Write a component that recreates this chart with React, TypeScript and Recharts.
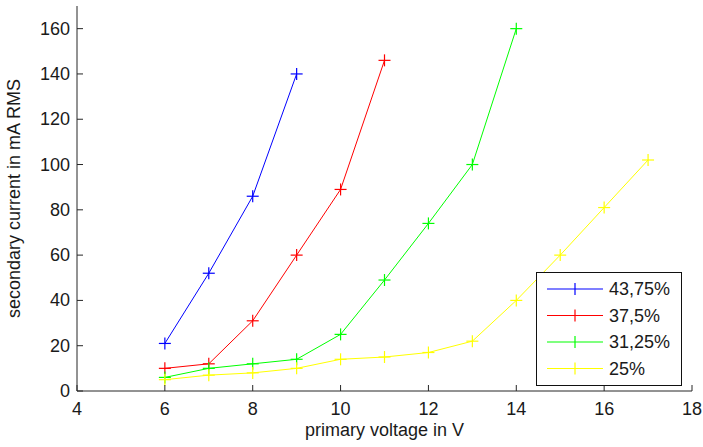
import { LineChart, Line, XAxis, YAxis, Legend } from 'recharts';

const voltages = [6, 7, 8, 9, 10, 11, 12, 13, 14, 15, 16, 17];
const current4375 = [21, 52, 86, 140];
const current375 = [10, 12, 31, 60, 89, 146];
const current3125 = [6, 10, 12, 14, 25, 49, 74, 100, 160];
const current25 = [5, 7, 8, 10, 14, 15, 17, 22, 40, 60, 81, 102];
const xTicks = [4, 6, 8, 10, 12, 14, 16, 18];
const yTicks = [0, 20, 40, 60, 80, 100, 120, 140, 160];

const toPoints = (vals: number[]) => vals.map((y, i) => ({ x: voltages[i], y }));

const series = [
    { name: '43,75%', color: '#0000ff', data: toPoints(current4375) },
    { name: '37,5%', color: '#ff0000', data: toPoints(current375) },
    { name: '31,25%', color: '#00ff00', data: toPoints(current3125) },
    { name: '25%', color: '#ffff00', data: toPoints(current25) },
];

const FONT = "'Liberation Sans', Arial, sans-serif";
const AXIS = '#262626';

// MATLAB style '+' marker
const PlusDot = (props: any) => {
    const { cx, cy, stroke } = props;
    if (cx == null || cy == null) return null;
    return (
        <g>
            <line x1={cx - 6} y1={cy} x2={cx + 6} y2={cy} stroke={stroke} strokeWidth={1.2} />
            <line x1={cx} y1={cy - 6} x2={cx} y2={cy + 6} stroke={stroke} strokeWidth={1.2} />
        </g>
    );
};

const BottomTick = (props: any) => {
    const { x, y, payload } = props;
    return (
        <g>
            <line x1={x} y1={y} x2={x} y2={y - 6} stroke={AXIS} />
            <text x={x} y={y + 24} textAnchor="middle" fill="#1a1a1a" fontSize={18} fontFamily={FONT}>
                {payload.value}
            </text>
        </g>
    );
};

const TopTick = (props: any) => {
    const { x, y } = props;
    return <line x1={x} y1={y} x2={x} y2={y + 6} stroke={AXIS} />;
};

const LeftTick = (props: any) => {
    const { x, y, payload } = props;
    return (
        <g>
            <line x1={x} y1={y} x2={x + 6} y2={y} stroke={AXIS} />
            <text x={x - 7} y={y + 6} textAnchor="end" fill="#1a1a1a" fontSize={18} fontFamily={FONT}>
                {payload.value}
            </text>
        </g>
    );
};

const RightTick = (props: any) => {
    const { x, y } = props;
    return <line x1={x} y1={y} x2={x - 6} y2={y} stroke={AXIS} />;
};

const renderLegend = () => (
    <svg width={146} height={114} style={{ display: 'block' }}>
        <rect x={0.5} y={0.5} width={145} height={113} fill="#fff" stroke="#111" />
        {series.map((s, i) => {
            const cy = 17 + i * 26.5;
            return (
                <g key={s.name}>
                    <line x1={11} y1={cy} x2={67} y2={cy} stroke={s.color} strokeWidth={1.2} />
                    <line x1={39} y1={cy - 6} x2={39} y2={cy + 6} stroke={s.color} strokeWidth={1.2} />
                    <text x={73} y={cy + 6} fill="#1a1a1a" fontSize={18} fontFamily={FONT}>
                        {s.name}
                    </text>
                </g>
            );
        })}
    </svg>
);

export default function App() {
    return (
        <div style={{ position: 'absolute', left: 0, top: 0, background: '#fff' }}>
            <LineChart width={703} height={447} margin={{ top: 6, right: 11, left: 0, bottom: 0 }}>
                <XAxis
                    type="number"
                    dataKey="x"
                    domain={[4, 18]}
                    ticks={xTicks}
                    interval={0}
                    height={56}
                    tickSize={0}
                    tickMargin={0}
                    tick={<BottomTick />}
                    stroke={AXIS}
                    label={{ value: 'primary voltage in V', position: 'insideBottom', offset: 11, fill: '#1a1a1a', fontSize: 18, fontFamily: FONT }}
                />
                <XAxis
                    xAxisId="top"
                    orientation="top"
                    type="number"
                    domain={[4, 18]}
                    ticks={xTicks}
                    interval={0}
                    height={0}
                    tickSize={0}
                    tickMargin={0}
                    tick={<TopTick />}
                    stroke={AXIS}
                />
                <YAxis
                    type="number"
                    domain={[0, 170]}
                    ticks={yTicks}
                    interval={0}
                    width={77}
                    tickSize={0}
                    tickMargin={0}
                    tick={<LeftTick />}
                    stroke={AXIS}
                    label={{ value: 'secondary current in mA RMS', angle: -90, position: 'insideLeft', offset: 14, fill: '#1a1a1a', fontSize: 18, fontFamily: FONT, style: { textAnchor: 'middle' } }}
                />
                <YAxis
                    yAxisId="right"
                    orientation="right"
                    type="number"
                    domain={[0, 170]}
                    ticks={yTicks}
                    interval={0}
                    width={0}
                    tickSize={0}
                    tickMargin={0}
                    tick={<RightTick />}
                    stroke={AXIS}
                />
                <Legend
                    layout="vertical"
                    align="center"
                    verticalAlign="middle"
                    content={renderLegend}
                    wrapperStyle={{ position: 'absolute', left: 536, top: 272, width: 146, height: 114 }}
                />
                {series.map((s) => (
                    <Line
                        key={s.name}
                        data={s.data}
                        dataKey="y"
                        name={s.name}
                        type="linear"
                        stroke={s.color}
                        strokeWidth={1}
                        dot={<PlusDot stroke={s.color} />}
                        activeDot={false}
                        isAnimationActive={false}
                    />
                ))}
            </LineChart>
        </div>
    );
}
